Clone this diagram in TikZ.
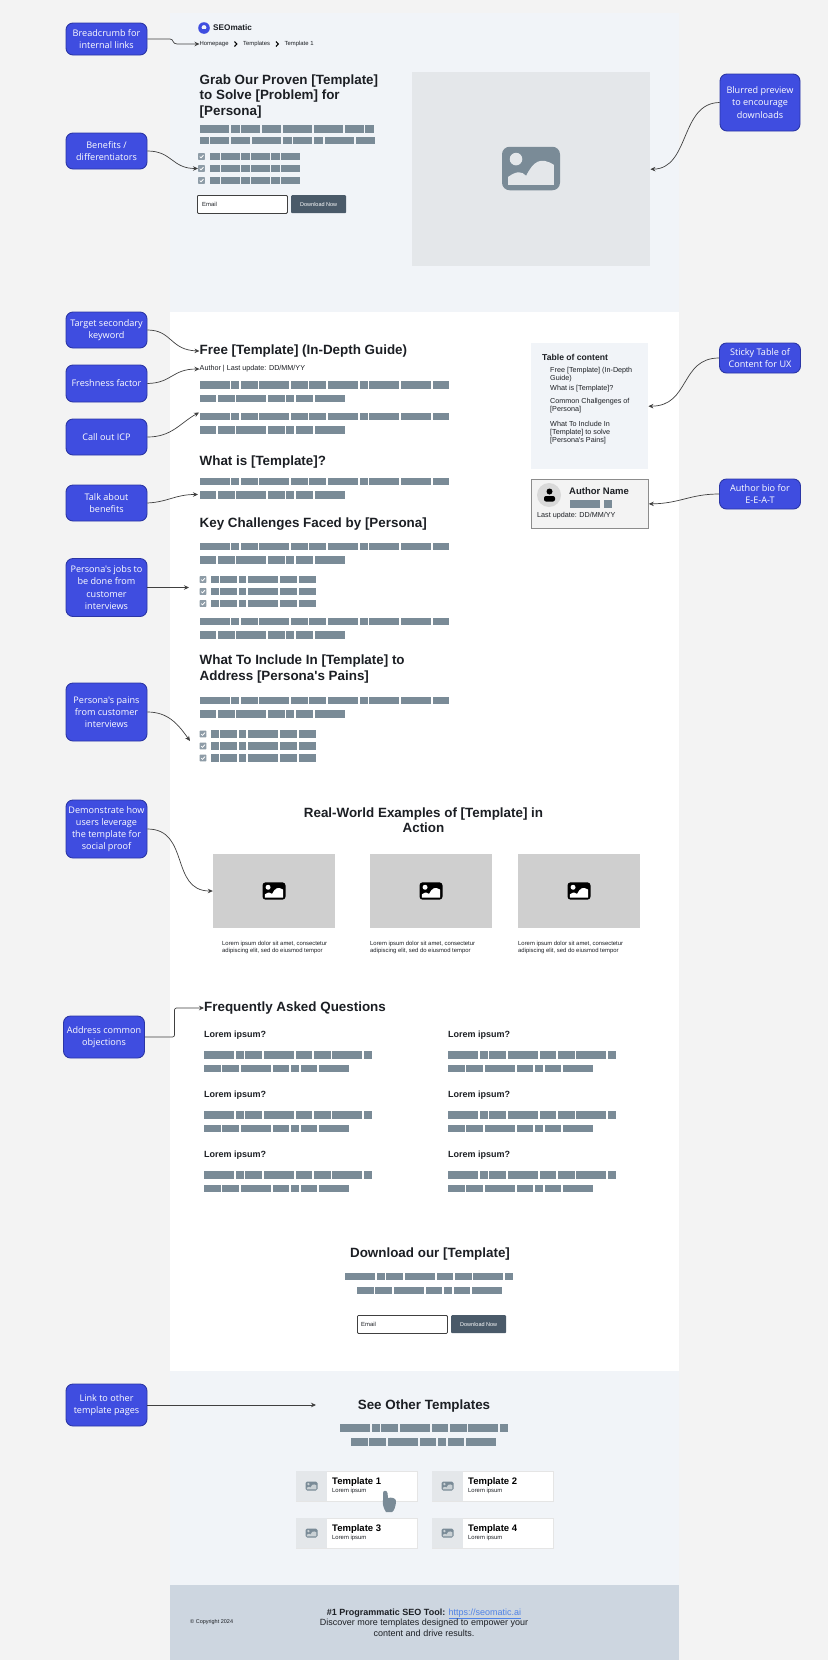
\documentclass[tikz,border=0pt]{standalone}
\usepackage{fontspec}
\setmainfont[Ligatures=TeXOff]{Liberation Sans}
\newfontfamily\notefont[Ligatures=TeXOff]{Open Sans}
\usetikzlibrary{arrows.meta,calc}
\definecolor{pagebg}{HTML}{F3F3F3}
\definecolor{herobg}{HTML}{F1F4F8}
\definecolor{footbg}{HTML}{CDD6E0}
\definecolor{notefill}{HTML}{3F4DE0}
\definecolor{noteline}{HTML}{2B36A6}
\definecolor{slate}{HTML}{7A8B97}
\definecolor{btnfill}{HTML}{4A5A69}
\definecolor{thumbbg}{HTML}{E4E7EA}
\definecolor{exbg}{HTML}{CFCFCF}
\definecolor{inkdark}{HTML}{1C1F24}
\definecolor{linkblue}{HTML}{4F82E6}
\def\fsz#1#2{\fontsize{#1}{#2}\selectfont}
\tikzset{
  callout/.style={rectangle,rounded corners=7,fill=notefill,draw=noteline,line width=0.9,text=white,align=center,inner sep=0,minimum width=81,font=\notefont\fsz{9.1}{12.2}},
  linkline/.style={draw=black!75,line width=0.7,-{Stealth[length=5,width=4.5]}},
  bighead/.style={inner sep=0,anchor=west,align=left,text=inkdark,font=\bfseries\fsz{13.4}{15.5}},
  midhead/.style={inner sep=0,text=inkdark,align=center,font=\bfseries\fsz{13.4}{15.5}},
  faqq/.style={inner sep=0,anchor=west,text=inkdark,font=\bfseries\fsz{9}{11}},
  smalltxt/.style={inner sep=0,anchor=west,align=left,text=inkdark,font=\fsz{7.2}{8}},
  tinytxt/.style={inner sep=0,anchor=west,align=left,text=inkdark,font=\fsz{5.9}{7}},
  imgbox/.style={rectangle,inner sep=0,fill=exbg,minimum width=122,minimum height=74},
  emailbox/.style={rectangle,rounded corners=1,draw=black!75,line width=0.8,fill=white,inner sep=0,minimum width=90,minimum height=18},
  dlbtn/.style={rectangle,rounded corners=1,fill=btnfill,text=white,inner sep=0,minimum width=55,minimum height=18,font=\fsz{5.5}{6}},
  crumbsep/.style={draw=black,line width=1.1},
  tplcard/.style={rectangle,fill=white,draw=black!10,line width=0.4,inner sep=0,minimum width=121,minimum height=30},
  tplthumb/.style={rectangle,fill=thumbbg,inner sep=0,minimum width=31,minimum height=30},
  tpltitle/.style={inner sep=0,anchor=west,text=black,font=\bfseries\fsz{9.5}{10}},
}
% row of grey word blocks, top left corner given
\def\barrow(#1,#2)#3{%
  \edef\barlist{#3}\xdef\barx{#1}%
  \foreach \w in \barlist {
    \fill[slate] (\barx,#2) rectangle ++(\w,7.5);
    \pgfmathsetmacro\barnext{\barx+\w+\bargap}
    \global\let\barx\barnext
  }}
% tick box, centre given
\def\tickbox(#1,#2){%
  \fill[slate!85,rounded corners=0.6] ($(#1,#2)+(-3.4,-3.4)$) rectangle ($(#1,#2)+(3.4,3.4)$);
  \draw[white,line width=0.8] ($(#1,#2)+(-1.8,0.1)$) -- ($(#1,#2)+(-0.5,1.4)$) -- ($(#1,#2)+(2,-1.4)$);}
% picture glyph, centre, width, frame colour, inner colour
\def\imgicon(#1,#2)#3#4#5{%
  \begin{scope}[shift={(#1,#2)},x=#3/24*1pt,y=-#3/24*1pt]
    \fill[#4,rounded corners=#3*0.13pt] (-12,-9) rectangle (12,9);
    \fill[#5] (-6.2,-3.9) circle (2.6);
    \fill[#5] (-9.5,6.8) -- (-9.5,3.5) .. controls (-6,1) and (-4,1) .. (-2,3) .. controls (1,-3) and (4,-5) .. (9.5,-1.5) -- (9.5,6.8) -- cycle;
  \end{scope}}

\begin{document}
\begin{tikzpicture}[x=1pt,y=-1pt]
	%%%%% START %%%%%
	\useasboundingbox (0,0) rectangle (828,1660);
	\def\bargap{1.7}
	\def\rowa{30,8,16.7,30,16.7,16.7,30,8,30,30,16.7}
	\def\rowb{16.7,16.7,30,16.7,8,16.7,30}
	\def\rowc{30,8,16.7,30,16.7,16.7,30,8}
	\def\rowd{7.5,17,7.5,30,17,17}
	\def\colx{204}
	\def\coly{448}

	\fill[pagebg] (0,0) rectangle (828,1660);
	\fill[herobg] (170,13) rectangle (679,312);
	\fill[white] (170,312) rectangle (679,1371);
	\fill[herobg] (170,1371) rectangle (679,1585);
	\fill[footbg] (170,1585) rectangle (679,1660);

	% hero
	\fill[notefill] (204,28) circle (5.8);
	\fill[herobg] (204,27.5) circle (2.4);
	\fill[notefill] (201.5,28.5) rectangle (206.5,31);
	\node[inner sep=0,anchor=west,text=inkdark,font=\bfseries\fsz{8.2}{9}] (logotxt) at (213,28) {SEOmatic};
	\node[tinytxt] (crumbhome) at (199.5,44) {Homepage};
	\draw[crumbsep] (234.5,41.5) -- (236.8,44) -- (234.5,46.5);
	\node[tinytxt] (crumbtpl) at (243,44) {Templates};
	\draw[crumbsep] (276,41.5) -- (278.3,44) -- (276,46.5);
	\node[tinytxt] (crumbone) at (284.5,44) {Template 1};
	\node[bighead,anchor=north west] (herohead) at (199.5,74.5) {Grab Our Proven [Template]\\to Solve [Problem] for\\[0pt][Persona]};
	\barrow(199.5,125){29.3,9,19,19,29.3,29.3,19,9}
	\barrow(199.5,136.5){9,19,19,29.3,9,19,9,29.3,19}
	\foreach \yy in {156.5,168.5,180.5} {
		\tickbox(201.5,\yy)
		\def\bargap{1}
		\pgfmathsetmacro\yb{\yy-3.7}
		\barrow(209.5,\yb){10,19,9,19,9.5,19}
	}
	\node[emailbox,anchor=north west] (heroemail) at (197,195) {};
	\node[tinytxt] (heroemailtxt) at (202,204) {Email};
	\node[dlbtn,anchor=north west] (herobtn) at (291,195) {Download Now};
	\node[rectangle,inner sep=0,fill=thumbbg,minimum width=238,minimum height=194,anchor=north west] (heroimg) at (412,72) {};
	\imgicon(531,168.5){58}{slate}{thumbbg}

	% guide
	\node[bighead] (freehead) at (199.5,351) {Free [Template] (In-Depth Guide)};
	\node[smalltxt] (authorline) at (199.5,369) {Author | Last update: DD/MM/YY};
	\barrow(199.5,381){\rowa}
	\barrow(199.5,394.5){\rowb}
	\barrow(199.5,412.7){\rowa}
	\barrow(199.5,426){\rowb}
	\coordinate (icpend) at (199,412.5);
	\node[bighead] (whathead) at (199.5,462.5) {What is [Template]?};
	\barrow(199.5,477.5){\rowa}
	\barrow(199.5,491){\rowb}
	\coordinate (benefend) at (198,494.5);
	\node[bighead] (keyhead) at (199.5,524.5) {Key Challenges Faced by [Persona]};
	\barrow(199.5,542.5){\rowa}
	\barrow(199.5,556){\rowb}
	\foreach \yy in {579.5,591.5,603.5} {
		\tickbox(203,\yy)
		\pgfmathsetmacro\yb{\yy-3.7}
		\barrow(211,\yb){\rowd}
	}
	\coordinate (jobsend) at (189,587.5);
	\barrow(199.5,617.7){\rowa}
	\barrow(199.5,631){\rowb}
	\node[bighead,anchor=north west] (inclhead) at (199.5,655) {What To Include In [Template] to\\Address [Persona's Pains]};
	\barrow(199.5,696.5){\rowa}
	\barrow(199.5,710){\rowb}
	\foreach \yy in {734,746,758} {
		\tickbox(203,\yy)
		\pgfmathsetmacro\yb{\yy-3.7}
		\barrow(211,\yb){\rowd}
	}
	\coordinate (painsend) at (190,741);

	% sidebar
	\node[rectangle,inner sep=0,fill=herobg,minimum width=117,minimum height=126,anchor=north west] (tocbox) at (531,343) {};
	\node[inner sep=0,anchor=west,text=inkdark,font=\bfseries\fsz{8.6}{10}] (toctitle) at (542,357) {Table of content};
	\node[smalltxt,anchor=north west] (tocone) at (550,367) {Free [Template] (In-Depth\\Guide)};
	\node[smalltxt] (toctwo) at (550,388.5) {What is [Template]?};
	\node[smalltxt,anchor=north west] (tocthree) at (550,398) {Common Challgenges of\\[0pt][Persona]};
	\node[smalltxt,anchor=north west] (tocfour) at (550,421) {What To Include In\\[0pt][Template] to solve\\[0pt][Persona's Pains]};
	\node[rectangle,inner sep=0,fill=pagebg,draw=black!45,line width=0.8,minimum width=117,minimum height=49,anchor=north west] (authorbox) at (531,479) {};
	\fill[black!15] (549,495) circle (12);
	\fill[black] (549.5,491.5) circle (3);
	\fill[black,rounded corners=2] (544,501.5) rectangle (555,496);
	\node[inner sep=0,anchor=west,text=inkdark,font=\bfseries\fsz{9.5}{10}] (authorname) at (569,491) {Author Name};
	\fill[slate] (570,500) rectangle (600,507.5);
	\fill[slate] (604,500) rectangle (611.5,507.5);
	\node[smalltxt] (authorupd) at (537,516) {Last update: DD/MM/YY};

	% examples
	\node[midhead] (exhead) at (423.5,820) {Real-World Examples of [Template] in\\Action};
	\node[imgbox] (exone) at (274,891) {};
	\node[imgbox] (extwo) at (431,891) {};
	\node[imgbox] (exthree) at (579,891) {};
	\imgicon(274,891){23}{black}{white}
	\imgicon(431,891){23}{black}{white}
	\imgicon(579,891){23}{black}{white}
	\node[tinytxt] (excapone) at (222,947.5) {Lorem ipsum dolor sit amet, consectetur\\adipiscing elit, sed do eiusmod tempor};
	\node[tinytxt] (excaptwo) at (370,947.5) {Lorem ipsum dolor sit amet, consectetur\\adipiscing elit, sed do eiusmod tempor};
	\node[tinytxt] (excapthree) at (518,947.5) {Lorem ipsum dolor sit amet, consectetur\\adipiscing elit, sed do eiusmod tempor};

	% questions
	\node[bighead] (faqhead) at (\colx,1008) {Frequently Asked Questions};
	\foreach \qy in {1035,1095,1155} {
		\node[faqq] at (\colx,\qy) {Lorem ipsum?};
		\node[faqq] at (\coly,\qy) {Lorem ipsum?};
		\pgfmathsetmacro\ya{\qy+16}
		\pgfmathsetmacro\yb{\qy+29.5}
		\barrow(\colx,\ya){\rowc}
		\barrow(\colx,\yb){\rowb}
		\barrow(\coly,\ya){\rowc}
		\barrow(\coly,\yb){\rowb}
	}

	% download
	\node[midhead] (dlhead) at (430,1254) {Download our [Template]};
	\barrow(345,1272.5){\rowc}
	\barrow(357,1286.5){\rowb}
	\node[emailbox,anchor=north west] (dlemail) at (357,1315) {};
	\node[tinytxt] (dlemailtxt) at (361,1324) {Email};
	\node[dlbtn,anchor=north west] (dlbtn) at (451,1315) {Download Now};

	% other templates
	\node[midhead] (seehead) at (424,1406) {See Other Templates};
	\coordinate (seeend) at (316,1405);
	\barrow(340,1424){\rowc}
	\barrow(351,1438){\rowb}
	\foreach \cx/\cy/\ctxt in {296/1471/1,432/1471/2,296/1518/3,432/1518/4} {
		\node[tplcard,anchor=north west] at (\cx,\cy) {};
		\node[tplthumb,anchor=north west] at (\cx,\cy) {};
		\pgfmathsetmacro\ix{\cx+15.5}
		\pgfmathsetmacro\iy{\cy+15}
		\imgicon(\ix,\iy){12}{slate}{slate!40}
		\pgfmathsetmacro\tx{\cx+36}
		\node[tpltitle] at (\tx,\cy+11) {Template \ctxt};
		\node[tinytxt] at (\tx,\cy+20) {Lorem ipsum};
	}
	\fill[slate] (383,1493) .. controls (383,1490) and (387,1490) .. (387.5,1493) -- (388,1498) .. controls (391,1497) and (396,1498) .. (396,1501) .. controls (396,1506) and (394,1511) .. (392,1512) -- (386,1512) .. controls (384,1509) and (382,1504) .. (383,1500) -- cycle;

	% footer
	\node[inner sep=0,anchor=west,text=inkdark,font=\fsz{5.5}{6}] (copytxt) at (190,1622) {© Copyright 2024};
	\node[inner sep=0,align=center,text=inkdark,font=\fsz{9}{10.5}] (foottxt) at (424,1622.5) {{\bfseries \#1 Programmatic SEO Tool:} \textcolor{linkblue}{\underline{https://seomatic.ai}}\\Discover more templates designed to empower your\\content and drive results.};

	% notes
	\node[callout,minimum height=32] (crumbnote) at (106.5,39) {Breadcrumb for\\internal links};
	\node[callout,minimum height=36] (benefnote) at (106.5,151) {Benefits /\\differentiators};
	\node[callout,minimum height=36] (keywnote) at (106.5,330) {Target secondary\\keyword};
	\node[callout,minimum height=37] (freshnote) at (106.5,383.5) {Freshness factor};
	\node[callout,minimum height=36] (icpnote) at (106.5,437) {Call out ICP};
	\node[callout,minimum height=36] (talknote) at (106.5,503) {Talk about\\benefits};
	\node[callout,minimum height=58] (jobsnote) at (106.5,587.5) {Persona's jobs to\\be done from\\customer\\interviews};
	\node[callout,minimum height=58] (painsnote) at (106.5,712) {Persona's pains\\from customer\\interviews};
	\node[callout,minimum height=58] (socialnote) at (106.5,829) {Demonstrate how\\users leverage\\the template for\\social proof};
	\node[callout,minimum height=42] (faqnote) at (104,1037) {Address common\\objections};
	\node[callout,minimum height=42] (linknote) at (106.5,1405) {Link to other\\template pages};
	\node[callout,minimum height=57,minimum width=80] (blurnote) at (760,102.5) {Blurred preview\\to encourage\\downloads};
	\node[callout,minimum height=30] (tocnote) at (760,358) {Sticky Table of\\Content for UX};
	\node[callout,minimum height=30] (bionote) at (760,494) {Author bio for\\E-E-A-T};

	% links
	\draw[linkline] (crumbnote.east) -- (170,39) .. controls (174,39) and (172,44) .. (177,44) -- (crumbhome.west);
	\draw[linkline] (benefnote.east) .. controls (172,151) and (172,168.5) .. (198,168.5);
	\draw[linkline] (keywnote.east) .. controls (172,330) and (170,350) .. (freehead.west);
	\draw[linkline] (freshnote.east) .. controls (172,383) and (172,369) .. (authorline.west);
	\draw[linkline] (icpnote.east) .. controls (172,437) and (180,423) .. (icpend);
	\draw[linkline] (talknote.east) .. controls (168,502) and (175,494.5) .. (benefend);
	\draw[linkline] (jobsnote.east) -- (jobsend);
	\draw[linkline] (painsnote.east) .. controls (168,712) and (178,724) .. (painsend);
	\draw[linkline] (socialnote.east) .. controls (190,829) and (170,891) .. (exone.west);
	\draw[linkline,rounded corners=2] (faqnote.east) -- (174.5,1037) -- (174.5,1008) -- (faqhead.west);
	\draw[linkline] (linknote.east) -- (seeend);
	\draw[linkline] (blurnote.west) .. controls (680,103) and (690,168.5) .. (heroimg.east);
	\draw[linkline] (tocnote.west) .. controls (680,358) and (690,406) .. (tocbox.east);
	\draw[linkline] (bionote.west) .. controls (690,494) and (680,503.5) .. (authorbox.east);
	%%%%% END %%%%%
\end{tikzpicture}
\end{document}
